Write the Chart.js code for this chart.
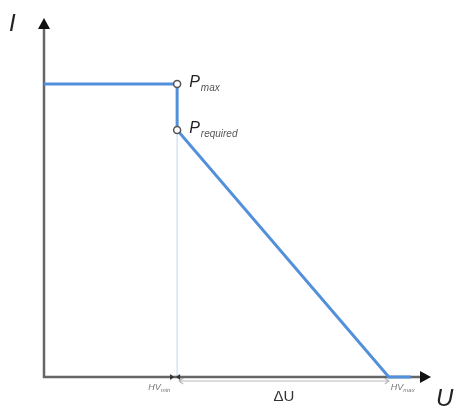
<!DOCTYPE html>
<html>
<head>
<meta charset="utf-8">
<script src="https://cdn.jsdelivr.net/npm/chart.js@4.4.1/dist/chart.umd.min.js"></script>
<style>
  body { margin: 0; background: #fff; }
  #wrap { width: 454px; height: 407px; }
</style>
</head>
<body>
<div id="wrap"><canvas id="chart"></canvas></div>
<script>
// U-I characteristic, arbitrary units (0..100 on both axes)
const uValues = [0, 34.4, 34.4, 89.1, 94.8];
const iValues = [81.6, 81.6, 68.8, 0, 0];
const pointLabels = ["Pmax", "Prequired"];
const pointU = [34.4, 34.4];
const pointI = [81.6, 68.8];
const hvMin = 34.4;
const hvMax = 89.1;

const blue = "#5290dc";
const axisGrey = "#666";

const curve = uValues.map((u, i) => ({ x: u, y: iValues[i] }));
const markers = pointU.map((u, i) => ({ x: u, y: pointI[i] }));

// draw axes, arrows and all the text labels
const annotations = {
  id: "annotations",
  beforeDatasetsDraw(chart) {
    const { ctx, chartArea: a, scales: { x, y } } = chart;
    const x0 = x.getPixelForValue(0);
    const y0 = y.getPixelForValue(0);
    ctx.save();
    // faint guide at HV min
    ctx.strokeStyle = "#c9dbf3";
    ctx.lineWidth = 1.2;
    ctx.beginPath();
    ctx.moveTo(x.getPixelForValue(hvMin), y.getPixelForValue(pointI[1]));
    ctx.lineTo(x.getPixelForValue(hvMin), y0);
    ctx.stroke();
    // dimension line (delta U)
    const dy = y0 + 4;
    const d1 = x.getPixelForValue(hvMin) + 2;
    const d2 = x.getPixelForValue(hvMax);
    ctx.strokeStyle = "#b8b8b8";
    ctx.lineWidth = 1.2;
    ctx.beginPath();
    ctx.moveTo(d1, dy);
    ctx.lineTo(d2, dy);
    ctx.moveTo(d1 + 4, dy - 3);
    ctx.lineTo(d1, dy);
    ctx.lineTo(d1 + 4, dy + 3);
    ctx.moveTo(d2 - 4, dy - 3);
    ctx.lineTo(d2, dy);
    ctx.lineTo(d2 - 4, dy + 3);
    ctx.stroke();
    // axes
    ctx.strokeStyle = axisGrey;
    ctx.lineWidth = 2.5;
    ctx.beginPath();
    ctx.moveTo(x0, a.top + 8);
    ctx.lineTo(x0, y0);
    ctx.lineTo(a.right - 8, y0);
    ctx.stroke();
    ctx.fillStyle = "#111";
    ctx.beginPath();
    ctx.moveTo(x0, a.top);
    ctx.lineTo(x0 - 6, a.top + 11);
    ctx.lineTo(x0 + 6, a.top + 11);
    ctx.closePath();
    ctx.fill();
    ctx.beginPath();
    ctx.moveTo(a.right, y0);
    ctx.lineTo(a.right - 11, y0 - 6);
    ctx.lineTo(a.right - 11, y0 + 6);
    ctx.closePath();
    ctx.fill();
    // small tick marks at HV min
    const hx = x.getPixelForValue(hvMin);
    ctx.fillStyle = "#333";
    ctx.beginPath();
    ctx.moveTo(hx - 7, y0 - 3);
    ctx.lineTo(hx - 3, y0);
    ctx.lineTo(hx - 7, y0 + 3);
    ctx.closePath();
    ctx.moveTo(hx + 3, y0 - 3);
    ctx.lineTo(hx - 1, y0);
    ctx.lineTo(hx + 3, y0 + 3);
    ctx.closePath();
    ctx.fill();
    ctx.restore();
  },
  afterDatasetsDraw(chart) {
    const { ctx, chartArea: a, scales: { x, y } } = chart;
    const x0 = x.getPixelForValue(0);
    const y0 = y.getPixelForValue(0);
    ctx.save();
    ctx.textBaseline = "alphabetic";
    ctx.fillStyle = "#222";
    // axis names
    ctx.font = "italic 24px 'Liberation Sans', Arial, sans-serif";
    ctx.fillText("I", 9, 31);
    ctx.fillText("U", 436, 406);
    // point labels
    pointLabels.forEach((lbl, i) => {
      const px = x.getPixelForValue(pointU[i]) + 12;
      const py = y.getPixelForValue(pointI[i]);
      ctx.fillStyle = "#222";
      ctx.font = "italic 16px 'Liberation Sans', Arial, sans-serif";
      ctx.fillText("P", px, py + 3);
      const w = ctx.measureText("P").width;
      ctx.fillStyle = "#555";
      ctx.font = "italic 10px 'Liberation Sans', Arial, sans-serif";
      ctx.fillText(lbl.slice(1), px + w + 1, py + 7);
    });
    // HV labels under the axis
    const hv = (txt, sub, px) => {
      ctx.fillStyle = "#777";
      ctx.font = "italic 9px 'Liberation Sans', Arial, sans-serif";
      ctx.fillText(txt, px, y0 + 13);
      const w = ctx.measureText(txt).width;
      ctx.font = "italic 6px 'Liberation Sans', Arial, sans-serif";
      ctx.fillText(sub, px + w, y0 + 15);
    };
    hv("HV", "min", x.getPixelForValue(hvMin) - 29);
    hv("HV", "max", x.getPixelForValue(hvMax) + 2);
    // delta U
    ctx.fillStyle = "#333";
    ctx.font = "15px 'Liberation Sans', Arial, sans-serif";
    ctx.textAlign = "center";
    ctx.fillText("\u0394U", (x.getPixelForValue(hvMin) + x.getPixelForValue(hvMax)) / 2 + 1, y0 + 24);
    ctx.restore();
  }
};

new Chart(document.getElementById("chart"), {
  type: "scatter",
  data: {
    datasets: [
      {
        data: curve,
        showLine: true,
        borderColor: blue,
        borderWidth: 3,
        pointRadius: 0,
        fill: false,
        clip: false,
        order: 2
      },
      {
        data: markers,
        showLine: false,
        pointRadius: 3.5,
        pointBackgroundColor: "#fff",
        pointBorderColor: "#555",
        pointBorderWidth: 1.5,
        clip: false,
        order: 1
      }
    ]
  },
  options: {
    responsive: true,
    maintainAspectRatio: false,
    animation: false,
    layout: { padding: { left: 44, right: 23, top: 18, bottom: 30 } },
    plugins: { legend: { display: false }, tooltip: { enabled: false } },
    scales: {
      x: { type: "linear", min: 0, max: 100, display: false },
      y: { type: "linear", min: 0, max: 100, display: false }
    }
  },
  plugins: [annotations]
});
</script>
</body>
</html>
